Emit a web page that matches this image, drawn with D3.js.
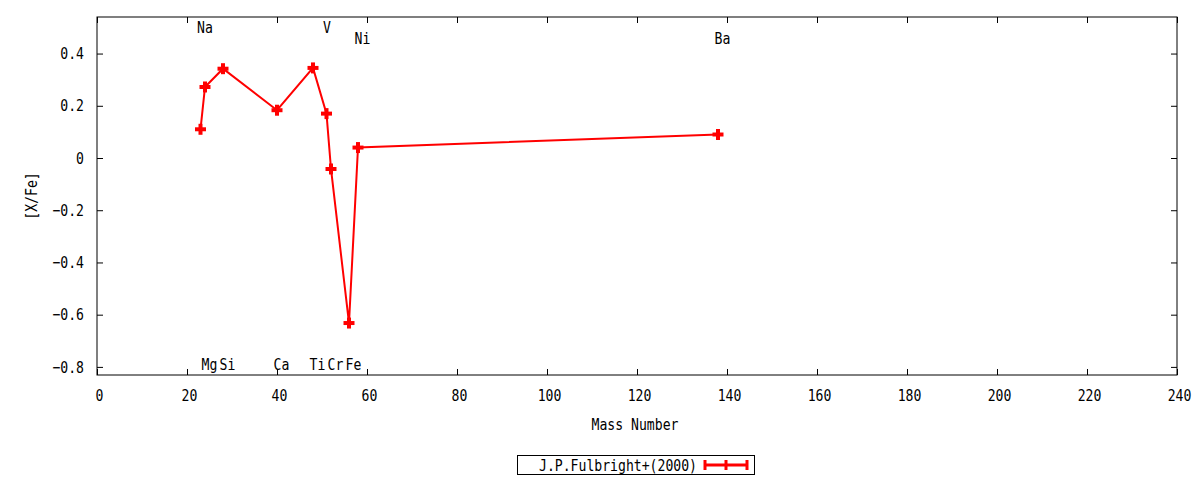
<!DOCTYPE html>
<html>
<head>
<meta charset="utf-8">
<script src="https://cdn.jsdelivr.net/npm/d3@7"></script>
<style>
  body { margin: 0; background: #fff; }
  text { font-family: "DejaVu Sans Mono", monospace; font-size: 16px; fill: #000; }
</style>
</head>
<body>
<svg id="chart" width="1200" height="480"></svg>
<script>
// abundance data, J.P.Fulbright+(2000)
var elements = ['Na', 'Mg', 'Si', 'Ca', 'Ti', 'V', 'Cr', 'Fe', 'Ni', 'Ba'];
var massNumber = [23, 24, 28, 40, 48, 51, 52, 56, 58, 138];
var xfe = [0.11, 0.272, 0.342, 0.183, 0.345, 0.17, -0.042, -0.632, 0.04, 0.09];
// where the element names sit (in [X/Fe])
var labelY = [0.50, -0.79, -0.79, -0.79, -0.79, 0.50, -0.79, -0.79, 0.46, 0.46];
var xTicks = [0, 20, 40, 60, 80, 100, 120, 140, 160, 180, 200, 220, 240];
var yTicks = [-0.8, -0.6, -0.4, -0.2, 0, 0.2, 0.4];
var seriesName = 'J.P.Fulbright+(2000)';

var svg = d3.select('#chart');
var mLeft = 97, mRight = 1177, mTop = 17, mBottom = 375;
var red = '#ff0000';
var charW = 7.9; // narrow monospace look

var x = d3.scaleLinear().domain([0, 240]).range([mLeft, mRight]);
var y = d3.scaleLinear().domain([-0.831, 0.54]).range([mBottom, mTop]);

function yfmt(d) {
    return d === 0 ? '0' : d3.format('.1f')(d);
}

// axes with mirrored ticks
var gx = svg.append('g')
    .attr('transform', 'translate(0,' + mBottom + ')')
    .call(d3.axisBottom(x).tickValues(xTicks).tickSize(-6).tickFormat(d3.format('d')));
gx.selectAll('.tick text').attr('dy', null).attr('y', 26).attr('x', 2);
svg.append('g')
    .attr('transform', 'translate(0,' + mTop + ')')
    .call(d3.axisTop(x).tickValues(xTicks).tickSize(-6).tickFormat(''));
svg.append('g')
    .attr('transform', 'translate(' + mLeft + ',0)')
    .call(d3.axisLeft(y).tickValues(yTicks).tickSize(-6).tickPadding(13).tickFormat(yfmt));
svg.append('g')
    .attr('transform', 'translate(' + mRight + ',0)')
    .call(d3.axisRight(y).tickValues(yTicks).tickSize(-6).tickFormat(''));

svg.selectAll('.domain').remove();
svg.selectAll('.tick line').attr('stroke', '#000');
svg.selectAll('.tick text').attr('font-family', null).attr('font-size', null).attr('fill', '#000');

svg.append('rect')
    .attr('x', mLeft).attr('y', mTop)
    .attr('width', mRight - mLeft).attr('height', mBottom - mTop)
    .attr('fill', 'none').attr('stroke', '#000').attr('stroke-width', 1);

// axis titles
svg.append('text')
    .attr('x', (mLeft + mRight) / 2 - 2).attr('y', 430)
    .attr('text-anchor', 'middle')
    .text('Mass Number');
svg.append('text')
    .attr('transform', 'translate(37,' + (mTop + mBottom) / 2 + ') rotate(-90)')
    .attr('text-anchor', 'middle')
    .text('[X/Fe]');

// element names
svg.append('g').selectAll('text')
    .data(elements)
    .enter().append('text')
    .attr('x', function(d, i) { return x(massNumber[i]) - 3.5; })
    .attr('y', function(d, i) { return y(labelY[i]) + 6; })
    .text(function(d) { return d; });

// the series
var pts = massNumber.map(function(m, i) { return [m, xfe[i]]; });
var line = d3.line()
    .x(function(d) { return x(d[0]); })
    .y(function(d) { return y(d[1]); });

svg.append('path')
    .datum(pts)
    .attr('d', line)
    .attr('fill', 'none')
    .attr('stroke', red)
    .attr('stroke-width', 2);

var marks = svg.append('g').selectAll('g')
    .data(pts)
    .enter().append('g')
    .attr('transform', function(d) { return 'translate(' + x(d[0]) + ',' + y(d[1]) + ')'; });
marks.append('line')
    .attr('x1', -5.5).attr('x2', 5.5).attr('y1', 0).attr('y2', 0)
    .attr('stroke', red).attr('stroke-width', 4);
marks.append('line')
    .attr('x1', 0).attr('x2', 0).attr('y1', -5.5).attr('y2', 5.5)
    .attr('stroke', red).attr('stroke-width', 4);

// legend
var lg = svg.append('g');
lg.append('rect')
    .attr('x', 517.5).attr('y', 455.5).attr('width', 237).attr('height', 19)
    .attr('fill', '#fff').attr('stroke', '#000');
lg.append('text')
    .attr('x', 697).attr('y', 471)
    .attr('text-anchor', 'end')
    .text(seriesName);
lg.append('line')
    .attr('x1', 705).attr('x2', 747).attr('y1', 465).attr('y2', 465)
    .attr('stroke', red).attr('stroke-width', 3);
[705, 726, 747].forEach(function(px) {
    lg.append('line')
        .attr('x1', px).attr('x2', px).attr('y1', 460).attr('y2', 470)
        .attr('stroke', red).attr('stroke-width', 3);
});

// squeeze every text to the narrow glyph width
svg.selectAll('text').each(function() {
    var n = this.textContent.length;
    if (n > 0) {
        d3.select(this)
            .attr('textLength', n * charW)
            .attr('lengthAdjust', 'spacingAndGlyphs');
    }
});
</script>
</body>
</html>
